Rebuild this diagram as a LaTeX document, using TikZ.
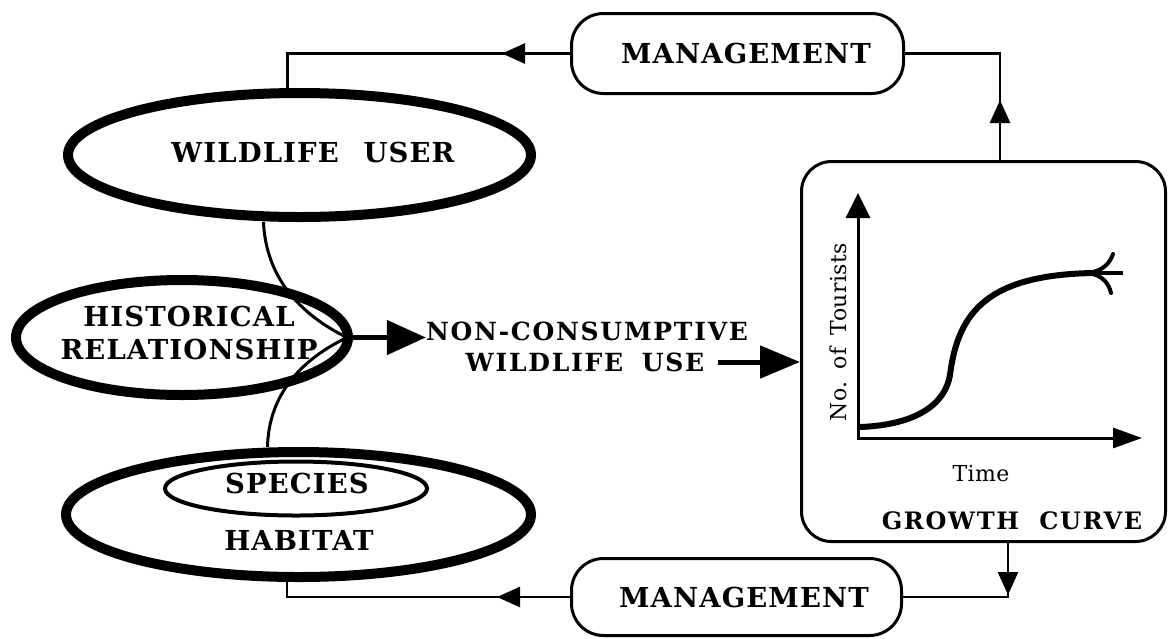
\documentclass[tikz,border=0pt]{standalone}
\usepackage{fontspec}
\setmainfont{DejaVu Serif}
\newfontfamily\labA[LetterSpace=4]{DejaVu Serif}
\newfontfamily\labB[LetterSpace=7]{DejaVu Serif}
\newfontfamily\labC[LetterSpace=2]{DejaVu Serif}
\usetikzlibrary{arrows.meta,decorations.markings,shapes.geometric,calc}
\begin{document}
\begin{tikzpicture}[x=1pt,y=-1pt,
  oval/.style={draw,ellipse,inner sep=0pt,line width=10pt},
  mgmt/.style={draw,rounded corners=32pt,line width=3pt,inner sep=0pt},
  big/.style={font=\labA\bfseries\fontsize{27.5}{32}\selectfont,inner sep=0pt},
  wide/.style={font=\labB\bfseries\fontsize{25}{30}\selectfont,inner sep=0pt},
  gcfont/.style={font=\labB\bfseries\fontsize{24}{30}\selectfont,inner sep=0pt},
  smallfont/.style={font=\labC\fontsize{22}{28}\selectfont,inner sep=0pt},
  conn/.style={line width=2.5pt},
  midarrow/.style={postaction={decorate},decoration={markings,mark=at position #1 with {\arrow{Triangle[length=23pt,width=20pt]}}}}
]
\fill[white] (0,0) rectangle (1169,638);
\useasboundingbox (0,0) rectangle (1169,638);

% ellipses
\node[oval,minimum width=463pt,minimum height=124pt] (wu) at (299.5,155) {};
\node[oval,minimum width=332pt,minimum height=115pt] (hr) at (182,337.5) {};
\node[oval,minimum width=465pt,minimum height=125pt] (hab) at (298.5,514.5) {};
\node[draw,ellipse,inner sep=0pt,line width=4pt,minimum width=262pt,minimum height=54pt] (sp) at (296,488.5) {};

% curves linking ellipses
\draw[line width=3pt] ([xshift=-36pt]wu.south) .. controls +(2,48) and +(-55,-27) .. ([xshift=-6pt]hr.east);
\draw[line width=3pt] ([xshift=-31pt]hab.north) .. controls +(1,-47) and +(-52,25) .. ([xshift=-6pt]hr.east);

% texts in ellipses
\node[big] (wut) at (313,152) {WILDLIFE\hspace{0.9em}USER};
\node[big] (hr1) at (189,316) {HISTORICAL};
\node[big] (hr2) at (189,349) {RELATIONSHIP};
\node[big] (spt) at (297,483) {SPECIES};
\node[big] (hat) at (299,540) {HABITAT};

% management boxes
\node[mgmt,minimum width=332pt,minimum height=80pt] (tm) at (737.5,53.5) {};
\node[mgmt,minimum width=330pt,minimum height=77pt] (bm) at (736.5,597) {};
\node[big] (tmt) at (746,53) {MANAGEMENT};
\node[big] (bmt) at (744,597) {MANAGEMENT};

% non-consumptive text
\node[wide] (nc1) at (587,331) {NON-CONSUMPTIVE};
\node[wide] (nc2) at (585,362) {WILDLIFE\hspace{0.75em}USE};

% growth curve box
\node[draw,rounded corners=30pt,line width=3pt,minimum width=364pt,minimum height=380pt,inner sep=0pt] (gb) at (983.5,351.5) {};
\coordinate (O) at (858,438);
\coordinate (ytop) at (858,193);
\coordinate (xend) at (1142,438);
\draw[line width=3pt,line join=miter,{Triangle[length=25pt,width=24pt]}-{Triangle[length=29pt,width=20pt]}] (ytop) -- (O) -- (xend);
\draw[line width=6pt] (860,427) .. controls (915,425) and (945,405) .. (950,375) .. controls (958,310) and (990,275) .. (1093,273);
\draw[line width=4pt] (1088,273) -- (1123,273);
\draw[line width=4pt,line cap=round] (1088,273) .. controls (1103,271) and (1110,263) .. (1113,254);
\draw[line width=4pt,line cap=round] (1088,273) .. controls (1103,275) and (1109,284) .. (1111,293);
\node[smallfont,rotate=90] (nt) at (838,332) {No.\hspace{0.55em}of\hspace{0.55em}Tourists};
\node[smallfont] (time) at (981,474) {Time};
\node[gcfont] (gct) at (1012,521) {GROWTH\hspace{0.85em}CURVE};

% arrows
\draw[line width=5pt,-{Triangle[length=39pt,width=34pt]}] (hr.east) -- (hr.east -| nc1.west);
\draw[line width=5pt,-{Triangle[length=40pt,width=32pt]}] ([xshift=14pt]nc2.east) -- (nc2.east -| gb.west);

\draw[conn,midarrow=68pt] (tm.west) -| ([xshift=-12pt]wu.north);
\draw[conn,midarrow=60pt] ([xshift=16.5pt]gb.north) |- (tm.east);
\draw[conn,midarrow=52pt] ([xshift=24.5pt]gb.south) |- (bm.east);
\draw[conn,midarrow=73pt] (bm.west) -| ([xshift=-11.5pt]hab.south);
\end{tikzpicture}
\end{document}
